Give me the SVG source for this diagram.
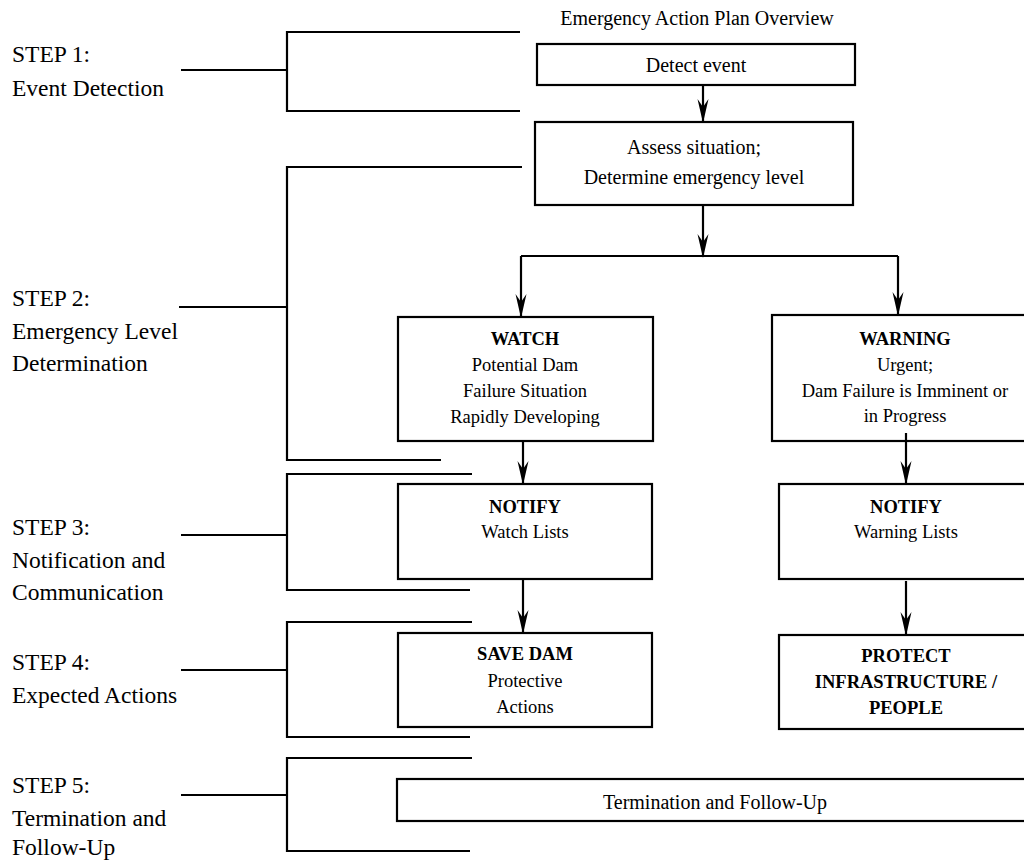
<svg xmlns="http://www.w3.org/2000/svg" width="1024" height="861" viewBox="0 0 1024 861">
<style>
.ln{stroke:#000;stroke-width:2.2;fill:none}
.box{stroke:#000;stroke-width:2.2;fill:#fff}
.lbl{font-family:"Liberation Serif","Times New Roman",serif;font-size:23.5px;fill:#000}
.t20{font-family:"Liberation Serif","Times New Roman",serif;font-size:20px;fill:#000;text-anchor:middle}
.t18{font-family:"Liberation Serif","Times New Roman",serif;font-size:18.5px;fill:#000;text-anchor:middle}
.b{font-weight:bold}
</style>
<defs>
<marker id="ah" viewBox="0 0 24 12" refX="23" refY="6" markerWidth="24" markerHeight="12" markerUnits="userSpaceOnUse" orient="auto">
<path d="M0,0.5 L24,6 L0,11.5 L8,6 Z" fill="#000"/>
</marker>
</defs>
<rect width="1024" height="861" fill="#fff"/>
<text class="t20" x="697" y="25">Emergency Action Plan Overview</text>

<g id="brackets">
<path class="ln" d="M520,32 H287 V111 H520 M181,70 H287"/>
<path class="ln" d="M522,167 H287 V460 H441 M179,307 H287"/>
<path class="ln" d="M472,474 H287 V590 H470 M181,535 H287"/>
<path class="ln" d="M472,622 H287 V737 H470 M181,670 H287"/>
<path class="ln" d="M472,758 H287 V851 H470 M181,795 H287"/>
</g>

<g id="step-labels">
<text class="lbl" x="12" y="62">STEP 1:</text>
<text class="lbl" x="12" y="96">Event Detection</text>
<text class="lbl" x="12" y="306">STEP 2:</text>
<text class="lbl" x="12" y="339">Emergency Level</text>
<text class="lbl" x="12" y="371">Determination</text>
<text class="lbl" x="12" y="535">STEP 3:</text>
<text class="lbl" x="12" y="568">Notification and</text>
<text class="lbl" x="12" y="600">Communication</text>
<text class="lbl" x="12" y="670">STEP 4:</text>
<text class="lbl" x="12" y="703">Expected Actions</text>
<text class="lbl" x="12" y="793">STEP 5:</text>
<text class="lbl" x="12" y="826">Termination and</text>
<text class="lbl" x="12" y="855">Follow-Up</text>
</g>

<g id="detect">
<rect class="box" x="537" y="44" width="318" height="41"/>
<text class="t20" x="696" y="72">Detect event</text>
</g>
<g id="assess">
<rect class="box" x="535" y="122" width="318" height="83"/>
<text class="t20" x="694" y="154">Assess situation;</text>
<text class="t20" x="694" y="184">Determine emergency level</text>
</g>
<g id="watch">
<rect class="box" x="398" y="317" width="255" height="124"/>
<text class="t18 b" x="525" y="345">WATCH</text>
<text class="t18" x="525" y="371">Potential Dam</text>
<text class="t18" x="525" y="397">Failure Situation</text>
<text class="t18" x="525" y="423">Rapidly Developing</text>
</g>
<g id="warning">
<rect class="box" x="772" y="315" width="270" height="126"/>
<text class="t18 b" x="905" y="345">WARNING</text>
<text class="t18" x="905" y="371">Urgent;</text>
<text class="t18" x="905" y="397">Dam Failure is Imminent or</text>
<text class="t18" x="905" y="422">in Progress</text>
</g>
<g id="notify-watch">
<rect class="box" x="398" y="484" width="254" height="95"/>
<text class="t18 b" x="525" y="513">NOTIFY</text>
<text class="t18" x="525" y="538">Watch Lists</text>
</g>
<g id="notify-warning">
<rect class="box" x="779" y="484" width="263" height="95"/>
<text class="t18 b" x="906" y="513">NOTIFY</text>
<text class="t18" x="906" y="538">Warning Lists</text>
</g>
<g id="save-dam">
<rect class="box" x="398" y="633" width="254" height="94"/>
<text class="t18 b" x="525" y="660">SAVE DAM</text>
<text class="t18" x="525" y="687">Protective</text>
<text class="t18" x="525" y="713">Actions</text>
</g>
<g id="protect">
<rect class="box" x="779" y="635" width="263" height="94"/>
<text class="t18 b" x="906" y="662">PROTECT</text>
<text class="t18 b" x="906" y="688">INFRASTRUCTURE /</text>
<text class="t18 b" x="906" y="714">PEOPLE</text>
</g>
<g id="termination">
<rect class="box" x="397" y="779" width="645" height="42"/>
<text class="t20" x="715" y="809">Termination and Follow-Up</text>
</g>

<g id="connectors">
<path class="ln" d="M703,85 V122" marker-end="url(#ah)"/>
<path class="ln" d="M703,205 V257" marker-end="url(#ah)"/>
<path class="ln" d="M521,256 H898"/>
<path class="ln" d="M521,256 V317" marker-end="url(#ah)"/>
<path class="ln" d="M898,256 V315" marker-end="url(#ah)"/>
<path class="ln" d="M523,441 V484" marker-end="url(#ah)"/>
<path class="ln" d="M906,433 V484" marker-end="url(#ah)"/>
<path class="ln" d="M523,579 V633" marker-end="url(#ah)"/>
<path class="ln" d="M906,581 V635" marker-end="url(#ah)"/>
</g>
</svg>
